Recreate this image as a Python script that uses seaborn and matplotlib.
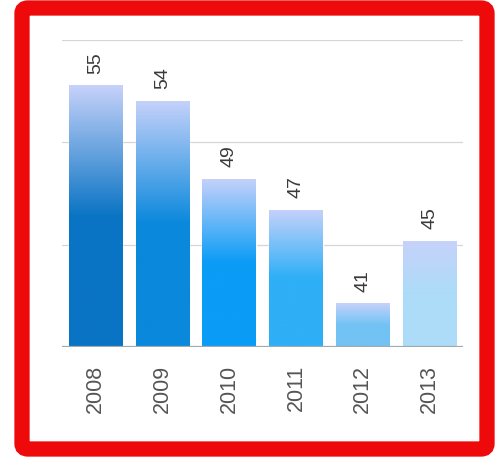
import numpy as np
import pandas as pd
import seaborn as sns
import matplotlib.pyplot as plt
from matplotlib.patches import FancyBboxPatch
from matplotlib.colors import LinearSegmentedColormap

years = ["2008", "2009", "2010", "2011", "2012", "2013"]
values = [55, 54, 49, 47, 41, 45]
base_colors = ["#0a74c4", "#0a88dc", "#0a9cf6", "#2eaff6", "#72c2f4", "#acdcf8"]
top_color = "#c6d2fa"

df = pd.DataFrame({"year": years, "value": values})

sns.set_style("white")
plt.rcParams['font.family'] = ['Liberation Sans', 'DejaVu Sans']

fig = plt.figure(figsize=(5.03, 4.57), dpi=100)
ax = fig.add_axes([62 / 503, 1 - 347 / 457, 401 / 503, 307 / 457])

sns.barplot(data=df, x="year", y="value", hue="year", palette=base_colors,
            width=0.8, legend=False, ax=ax, saturation=1)

ymin, ymax = 38.2, 57.9
ax.set_ylim(ymin, ymax)
ax.set_xlim(-0.5, 5.5)

# gradient overlay on each bar (light top fading to bar colour)
for patch, col, v in zip(ax.patches, base_colors, values):
    x0 = patch.get_x()
    w = patch.get_width()
    cmap = LinearSegmentedColormap.from_list("g", [(0, top_color), (0.5, col), (1, col)])
    grad = np.linspace(0, 1, 256).reshape(-1, 1)
    im = ax.imshow(grad, cmap=cmap, aspect="auto", extent=(x0, x0 + w, ymin, v),
                   origin="upper", zorder=patch.get_zorder() + 0.1)
    im.set_clip_path(patch)
    ax.text(x0 + w / 2, v + 0.75, str(v), rotation=90, ha="center", va="bottom",
            fontsize=14, color="#3a3a3a")

for g in np.linspace(ymin, ymax, 4)[1:]:
    ax.axhline(g, color="#d6d6d6", lw=0.9, zorder=0)
ax.axhline(ymin, color="#a0a8b0", lw=1.6, zorder=5)

ax.set_yticks([])
ax.set_xlabel("")
ax.set_ylabel("")
ax.tick_params(axis="x", length=0, pad=13)
for lbl in ax.get_xticklabels():
    lbl.set_rotation(90)
    lbl.set_fontsize(15.5)
    lbl.set_color("#555555")
    lbl.set_va("top")
for s in ax.spines.values():
    s.set_visible(False)

# red frame
frame = FancyBboxPatch((22 / 503, 8 / 457), 465 / 503, 441 / 457,
                       boxstyle="round,pad=0,rounding_size=0.012",
                       transform=fig.transFigure, fill=False,
                       edgecolor="#ee0a0a", linewidth=11)
fig.patches.append(frame)

fig.savefig("out.png", dpi=100)
